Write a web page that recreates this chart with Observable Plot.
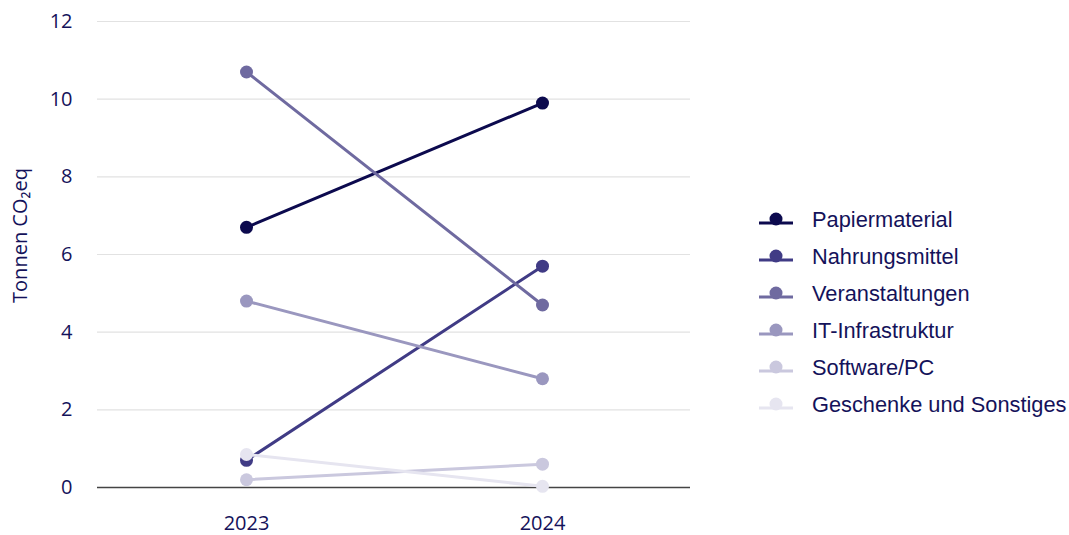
<!DOCTYPE html>
<html>
<head>
<meta charset="utf-8">
<script src="https://cdn.jsdelivr.net/npm/d3@7"></script>
<script src="https://cdn.jsdelivr.net/npm/@observablehq/plot@0.6"></script>
<style>
  body { margin: 0; background: #fff; }
  #wrap { position: relative; width: 1069px; height: 535px; font-family: "Open Sans", sans-serif; }
  #chart svg { overflow: visible; }
  #legend { position: absolute; left: 758px; top: 201px; font-family: "Liberation Sans", Arial, sans-serif; font-size: 21.8px; color: #14125a; }
  .item { display: flex; align-items: center; height: 37px; }
  .item svg { margin-right: 18px; }
</style>
</head>
<body>
<div id="wrap"><div id="chart"></div><div id="legend"></div></div>
<script>
const years = ["2023", "2024"];
const categories = ["Papiermaterial", "Nahrungsmittel", "Veranstaltungen", "IT-Infrastruktur", "Software/PC", "Geschenke und Sonstiges"];
const values2023 = [6.7, 0.7, 10.7, 4.8, 0.2, 0.85];
const values2024 = [9.9, 5.7, 4.7, 2.8, 0.6, 0.03];
const colors = ["#0c0a4e", "#403b85", "#6f6aa0", "#9a97bf", "#cac8de", "#e6e5f0"];
const yTicks = [0, 2, 4, 6, 8, 10, 12];

const data = [];
categories.forEach((c, i) => {
  data.push({category: c, year: years[0], value: values2023[i]});
  data.push({category: c, year: years[1], value: values2024[i]});
});

const textColor = "#14125a";

const chart = Plot.plot({
  width: 740,
  height: 535,
  marginLeft: 97,
  marginRight: 50,
  marginTop: 21,
  marginBottom: 48,
  style: {fontFamily: "'Open Sans', sans-serif", fontSize: "20px", color: textColor, background: "transparent", overflow: "visible"},
  x: {type: "point", domain: years, padding: 0.5, label: null},
  y: {domain: [0, 12], label: null},
  color: {domain: categories, range: colors},
  marks: [
    Plot.gridY(yTicks.filter(d => d !== 0), {stroke: "#e2e2e2", strokeOpacity: 1, strokeWidth: 1.2}),
    Plot.ruleY([0], {stroke: "#444", strokeWidth: 1.5}),
    Plot.axisY({ticks: yTicks, tickSize: 0, tickPadding: 25, label: null, fontSize: 20}),
    Plot.axisX({tickSize: 0, tickPadding: 28, label: null, fontSize: 20}),
    Plot.text(["Tonnen CO₂eq"], {frameAnchor: "left", textAnchor: "middle", dx: -77, dy: -19, rotate: -90, fontSize: 20, fill: textColor}),
    Plot.line(data, {x: "year", y: "value", z: "category", stroke: "category", strokeWidth: 3}),
    Plot.dot(data, {x: "year", y: "value", fill: "category", r: 6.5})
  ]
});
document.getElementById("chart").appendChild(chart);

const legend = document.getElementById("legend");
categories.forEach((c, i) => {
  const div = document.createElement("div");
  div.className = "item";
  div.innerHTML = `<svg width="36" height="20"><line x1="1" x2="35" y1="13" y2="13" stroke="${colors[i]}" stroke-width="3"/><circle cx="18" cy="9" r="6.5" fill="${colors[i]}"/></svg><span>${c}</span>`;
  legend.appendChild(div);
});
</script>
</body>
</html>
